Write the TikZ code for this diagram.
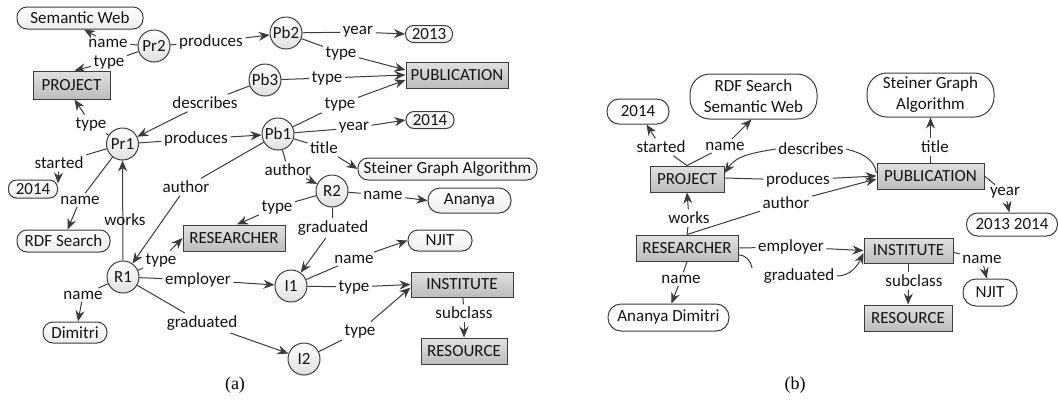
\documentclass[tikz,border=0pt]{standalone}
\usepackage{fontspec}
\setmainfont{Carlito}
\newfontfamily\capfont{Liberation Serif}
\usetikzlibrary{arrows.meta}
\definecolor{edgec}{HTML}{3C3C3C}
\definecolor{txt}{HTML}{141414}
\tikzset{
  base/.style={font=\fontsize{17}{21}\selectfont, text=txt},
  inst/.style={base, circle, draw=edgec, line width=1pt, top color=white, bottom color=black!12, minimum size=32pt, inner sep=0pt},
  cls/.style={base, rectangle, draw=edgec, line width=1pt, top color=black!12, bottom color=black!26, minimum height=26pt, inner sep=0pt},
  lit/.style={base, rectangle, rounded corners=10pt, draw=edgec, line width=1pt, top color=white, bottom color=black!7, inner sep=0pt, align=center},
  litb/.style={base, rectangle, rounded corners=11pt, draw=edgec, line width=1pt, fill=white, inner sep=0pt, align=center},
  lbl/.style={base, inner sep=2.5pt},
  con/.style={draw=edgec, line width=1pt},
  arr/.style={con, -{Stealth[length=11pt,width=9pt]}},
}
\begin{document}
\begin{tikzpicture}[x=1pt,y=-1pt]
\useasboundingbox (0,0) rectangle (1058,400);

% ---------------- (a) instance graph ----------------
\node[lit, minimum width=126pt, minimum height=22pt] (sw) at (80,18) {Semantic Web};
\node[inst] (pr2) at (154,46) {Pr2};
\node[inst] (pb2) at (286,33) {Pb2};
\node[lit, minimum width=47pt, minimum height=17pt, rounded corners=8pt] (y13) at (429,34) {2013};
\node[cls, minimum width=77pt, minimum height=28pt] (projA) at (71.5,85) {PROJECT};
\node[inst] (pb3) at (265,80) {Pb3};
\node[cls, minimum width=102pt] (pubA) at (457,75) {PUBLICATION};
\node[inst] (pr1) at (122.5,144) {Pr1};
\node[inst] (pb1) at (278,134) {Pb1};
\node[lit, minimum width=48pt, minimum height=17pt, rounded corners=8pt] (y14) at (430,120) {2014};
\node[lit, minimum width=179pt, minimum height=22pt] (sgA) at (447.5,169) {Steiner Graph Algorithm};
\node[lit, minimum width=49pt, minimum height=18pt, rounded corners=8pt] (st14) at (33,189) {2014};
\node[inst] (r2) at (332,191) {R2};
\node[lit, minimum width=83pt, minimum height=25pt, rounded corners=12pt] (ananya) at (469.5,200.5) {Ananya};
\node[lit, minimum width=93pt, minimum height=22pt] (rdf) at (63.5,241) {RDF Search};
\node[cls, minimum width=102pt] (resA) at (234,238) {RESEARCHER};
\node[lit, minimum width=64pt, minimum height=21pt] (njitA) at (440,240.5) {NJIT};
\node[inst] (r1) at (123,277) {R1};
\node[inst] (i1) at (291,286) {I1};
\node[cls, minimum width=102pt, minimum height=25pt] (instA) at (462,284.5) {INSTITUTE};
\node[lit, minimum width=64pt, minimum height=21pt] (dim) at (75,332.5) {Dimitri};
\node[inst] (i2) at (304,359) {I2};
\node[cls, minimum width=86pt] (resoA) at (464,351) {RESOURCE};

% linking phrases of (a)
\node[lbl] (a1) at (108,43) {name};
\draw[con] (pr2) -- (a1); \draw[arr] (a1) -- ([xshift=4pt]sw.south);
\node[lbl] (a2) at (109,62) {type};
\draw[con] (pr2) -- (a2); \draw[arr] (a2) -- ([xshift=3pt]projA.north);
\node[lbl] (a3) at (211,42) {produces};
\draw[con] (pr2) -- (a3); \draw[arr] (a3) -- (pb2);
\node[lbl] (a4) at (358,32) {year};
\draw[con] (pb2) -- (a4); \draw[arr] (a4) -- (y13.west);
\node[lbl] (a5) at (341,53) {type};
\draw[con] (pb2) -- (a5); \draw[arr] (a5) -- ([yshift=5pt]pubA.west);
\node[lbl] (a6) at (327,78) {type};
\draw[con] (pb3) -- (a6); \draw[arr] (a6) -- (pubA.west);
\node[lbl] (a7) at (340,104) {type};
\draw[con] (pb1) -- (a7); \draw[arr] (a7) -- ([yshift=-5pt]pubA.west);
\node[lbl] (a8) at (354,128) {year};
\draw[con] (pb1) -- (a8); \draw[arr] (a8) -- (y14.west);
\node[lbl] (a9) at (324,148) {title};
\draw[con] (pb1) -- (a9); \draw[arr] (a9) -- (sgA.west);
\node[lbl] (a10) at (205,103) {describes};
\draw[con] (pb3) -- (a10); \draw[arr] (a10) -- (pr1);
\node[lbl] (a11) at (91,124) {type};
\draw[con] (pr1) -- (a11); \draw[arr] (a11) -- ([xshift=3pt]projA.south);
\node[lbl] (a12) at (196,139) {produces};
\draw[con] (pr1) -- (a12); \draw[arr] (a12) -- (pb1);
\node[lbl] (a13) at (59,163) {started};
\draw[con] (pr1) -- (a13); \draw[arr] (a13) -- ([yshift=-4pt]st14.north east);
\node[lbl] (a14) at (80,200) {name};
\draw[con] (pr1) -- (a14); \draw[arr] (a14) -- ([xshift=4pt]rdf.north);
\draw[arr] (r1) -- (pr1);
\node[lbl] (a15) at (125,220) {works};
\node[lbl] (a16) at (186,187) {author};
\draw[con] (pb1) -- (a16); \draw[arr] (a16) -- (r1);
\node[lbl] (a17) at (288,170) {author};
\draw[con] (pb1) -- (a17); \draw[arr] (a17) -- (r2);
\node[lbl] (a18) at (161,260) {type};
\draw[con] (r1) -- (a18); \draw[arr] (a18) -- (resA.west);
\node[lbl] (a19) at (198,280) {employer};
\draw[con] (r1) -- (a19); \draw[arr] (a19) -- (i1);
\node[lbl] (a20) at (83,295) {name};
\draw[con] (r1) -- (a20); \draw[arr] (a20) -- ([xshift=3pt]dim.north);
\node[lbl] (a21) at (202,323) {graduated};
\draw[con] (r1) -- (a21); \draw[arr] (a21) -- (i2);
\node[lbl] (a22) at (277,207) {type};
\draw[con] (r2) -- (a22); \draw[arr] (a22) -- ([xshift=3pt]resA.north);
\node[lbl] (a23) at (383,195) {name};
\draw[con] (r2) -- (a23); \draw[arr] (a23) -- (ananya.west);
\node[lbl] (a24) at (333,228) {graduated};
\draw[con] (r2) -- (a24); \draw[arr] (a24) -- (i1);
\node[lbl] (a25) at (354,259) {name};
\draw[con] (i1) -- (a25); \draw[arr] (a25) -- (njitA.west);
\node[lbl] (a26) at (354,287) {type};
\draw[con] (i1) -- (a26); \draw[arr] (a26) -- (instA.west);
\node[lbl] (a27) at (360,331) {type};
\draw[con] (i2) -- (a27); \draw[arr] (a27) -- ([yshift=-3pt]instA.west);
\node[lbl] (a28) at (464,313) {subclass};
\draw[con] (instA) -- (a28); \draw[arr] (a28) -- (resoA);

% ---------------- (b) summary graph ----------------
\node[litb, minimum width=62pt, minimum height=25pt, rounded corners=12pt] (b14) at (638,111.5) {2014};
\node[litb, minimum width=127pt, minimum height=45pt, rounded corners=20pt] (bsw) at (753.5,96.5) {RDF Search\\Semantic Web};
\node[litb, minimum width=127pt, minimum height=44pt, rounded corners=20pt] (bsg) at (930.5,95) {Steiner Graph\\Algorithm};
\node[cls, minimum width=74pt] (projB) at (687,179) {PROJECT};
\node[cls, minimum width=107pt] (pubB) at (930.5,176) {PUBLICATION};
\node[litb, minimum width=91pt, minimum height=23pt] (b1314) at (1012,224.5) {2013 2014};
\node[cls, minimum width=102pt] (resB) at (687,248) {RESEARCHER};
\node[cls, minimum width=89pt, minimum height=25pt] (instB) at (908.5,250.5) {INSTITUTE};
\node[litb, minimum width=121pt, minimum height=27pt, rounded corners=13pt] (adim) at (668.5,317.5) {Ananya Dimitri};
\node[litb, minimum width=54pt, minimum height=27pt, rounded corners=13pt] (njitB) at (990,292.5) {NJIT};
\node[cls, minimum width=88pt] (resoB) at (908,318) {RESOURCE};

% linking phrases of (b)
\node[lbl] (b1) at (661,147) {started};
\draw[con] (projB.north) -- (b1); \draw[arr] (b1) -- (b14);
\node[lbl] (b2) at (725,146) {name};
\draw[con] (projB.north) -- (b2); \draw[arr] (b2) -- ([xshift=-2pt]bsw.south);
\node[lbl] (b3) at (811,149) {describes};
\draw[con] ([yshift=3pt]pubB.west) to[out=100,in=-15] (b3.east);
\draw[arr] (b3.west) to[out=190,in=55] ([yshift=6pt]projB.east);
\node[lbl] (b4) at (798,180) {produces};
\draw[con] ([yshift=1pt]projB.east) -- (b4); \draw[arr] (b4) -- (pubB.west);
\node[lbl] (b5) at (786,203) {author};
\draw[con] (resB.north) -- (b5); \draw[arr] (b5) -- ([yshift=-3pt]pubB.west);
\node[lbl] (b6) at (689,218) {works};
\draw[con] (resB.north) -- (b6); \draw[arr] (b6) -- (projB.south);
\node[lbl] (b7) at (935,147) {title};
\draw[con] (pubB.north) -- (pubB.north |- b7.south);
\draw[arr] (pubB.north |- b7.north) -- (bsg.south);
\node[lbl] (b8) at (1005,193) {year};
\draw[con] (pubB.east) -- (b8); \draw[arr] (b8) -- (b1314);
\node[lbl] (b9) at (791,247) {employer};
\draw[con] (resB.east) -- (b9); \draw[arr] (b9) -- (instB.west);
\node[lbl] (b10) at (799,276) {graduated};
\draw[con] ([yshift=-7pt]resB.east) to[out=0,in=100] ([xshift=-9pt,yshift=-2pt]b10.north west);
\draw[arr] (b10.east) to[out=0,in=-115] ([yshift=-2.5pt]instB.west);
\node[lbl] (b11) at (681,279) {name};
\draw[con] (resB.south) -- (b11); \draw[arr] (b11) -- ([xshift=3pt]adim.north);
\node[lbl] (b12) at (982,259) {name};
\draw[con] ([yshift=-2pt]instB.east) -- (b12); \draw[arr] (b12) -- (njitB);
\node[lbl] (b13) at (914,281) {subclass};
\draw[con] (instB.south) -- (instB.south |- b13.north);
\draw[arr] (instB.south |- b13.south) -- (resoB.north);

% captions
\node[font=\capfont\fontsize{18}{20}\selectfont] (capa) at (235,385) {(a)};
\node[font=\capfont\fontsize{18}{20}\selectfont] (capb) at (795,385) {(b)};
\end{tikzpicture}
\end{document}
